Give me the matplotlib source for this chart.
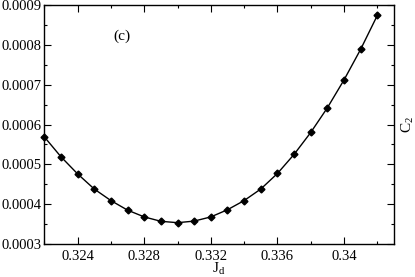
import matplotlib
matplotlib.use("Agg")
import matplotlib.pyplot as plt
from matplotlib.ticker import MultipleLocator, FixedLocator

jd = [0.322, 0.323, 0.324, 0.325, 0.326, 0.327, 0.328, 0.329, 0.330, 0.331, 0.332,
      0.333, 0.334, 0.335, 0.336, 0.337, 0.338, 0.339, 0.340, 0.341, 0.342]
c2 = [0.000569, 0.000519, 0.000476, 0.000438, 0.000409, 0.000385, 0.000368, 0.000357,
      0.0003535, 0.0003575, 0.000368, 0.000386, 0.000409, 0.000438, 0.000477, 0.000525,
      0.000580, 0.000642, 0.000712, 0.000789, 0.000874]

xticks = [0.324, 0.328, 0.332, 0.336, 0.340]
xticklabels = ["0.324", "0.328", "0.332", "0.336", "0.34"]
yticks = [0.0003, 0.0004, 0.0005, 0.0006, 0.0007, 0.0008, 0.0009]
yticklabels = ["0.0003", "0.0004", "0.0005", "0.0006", "0.0007", "0.0008", "0.0009"]

plt.rcParams['font.family'] = ['Liberation Serif', 'DejaVu Serif']
plt.rcParams['mathtext.fontset'] = 'stix'

fig = plt.figure(figsize=(4.15, 2.77), dpi=100)
ax = fig.add_axes([44.3/415, 1 - 244/277, (394 - 44.3)/415, (244 - 5)/277])

ax.plot(jd, c2, color='black', lw=1.0, marker='D', ms=3.5, mfc='black', mec='black', clip_on=False)

ax.set_xlim(0.322, 0.343)
ax.set_ylim(0.0003, 0.0009)
ax.xaxis.set_major_locator(FixedLocator(xticks))
ax.set_xticklabels(xticklabels)
ax.xaxis.set_minor_locator(MultipleLocator(0.002))
ax.yaxis.set_major_locator(FixedLocator(yticks))
ax.set_yticklabels(yticklabels)
ax.yaxis.set_minor_locator(MultipleLocator(0.00005))

ax.tick_params(which='both', direction='in', top=True, right=True, labelsize=10.5, width=0.8)
ax.tick_params(axis='y', pad=2)
ax.tick_params(axis='x', pad=4)
ax.tick_params(which='major', length=5)
ax.tick_params(which='minor', length=2.5)
for s in ax.spines.values():
    s.set_linewidth(1.0)

ax.set_xlabel(r"J$_\mathregular{d}$", fontsize=11, labelpad=-1)
ax.yaxis.set_label_position('right')
ax.set_ylabel(r"C$_\mathregular{2}$", fontsize=11, labelpad=4)

ax.text(122/415, 1 - 36/277, "(c)", transform=fig.transFigure, fontsize=11, ha='center', va='center')

fig.savefig("out.png", dpi=100)
